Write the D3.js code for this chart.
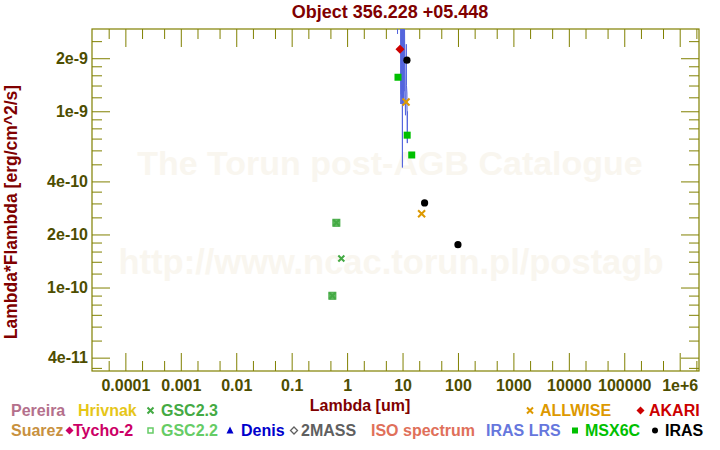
<!DOCTYPE html>
<html><head><meta charset="utf-8">
<script src="https://cdn.jsdelivr.net/npm/d3@7"></script>
<style>body{margin:0;background:#fff}svg{display:block}text{font-family:"Liberation Sans",Arial,sans-serif;font-weight:bold}</style>
</head><body>
<svg id="c" width="720" height="450"></svg>
<script>
// ---- data ----
const titleText = "Object 356.228 +05.448";
const xMajorTicks = [1e-4,1e-3,1e-2,1e-1,1,10,100,1000,1e4,1e5,1e6];
const xMajorLabels = ["0.0001","0.001","0.01","0.1","1","10","100","1000","10000","100000","1e+6"];
const xMinorTicks = [5e-5,2e-4,5e-4,2e-3,5e-3,2e-2,5e-2,0.2,0.5,2,5,20,50,200,500,2000,5000,2e4,5e4,2e5,5e5,2e6];
const yMajorTicks = [4e-11,1e-10,2e-10,4e-10,1e-9,2e-9];
const yMajorLabels = ["4e-11","1e-10","2e-10","4e-10","1e-9","2e-9"];
const yMinorTicks = [3.5e-11,5e-11,6e-11,7e-11,8e-11,9e-11,1.2e-10,1.4e-10,1.6e-10,1.8e-10,2.5e-10,3e-10,3.5e-10,5e-10,6e-10,7e-10,8e-10,9e-10,1.2e-9,1.4e-9,1.6e-9,1.8e-9,2.5e-9];

const irasLambda = [12, 25, 100];
const irasFlux   = [1.95e-9, 3.02e-10, 1.75e-10];
const msxLambda = [8.28, 12.13, 14.65];
const msxFlux   = [1.56e-9, 7.32e-10, 5.65e-10];
const allwiseLambda = [11.56, 22.09];
const allwiseFlux   = [1.13e-9, 2.62e-10];
const akariLambda = [9];
const akariFlux   = [2.25e-9];
const gsc22Lambda = [0.64, 0.542];
const gsc22Flux   = [2.33e-10, 8.98e-11];
const gsc23Lambda = [0.64, 0.787, 0.542];
const gsc23Flux   = [2.33e-10, 1.46e-10, 8.98e-11];
const lrsLambda = [7.9, 8.08, 8.12, 8.18, 9.3, 9.33, 9.38, 9.45, 9.52, 9.6, 9.68, 9.76, 9.84, 9.92, 9.96, 10.0, 10.08, 10.16, 10.24, 10.32, 10.4, 10.48, 10.56, 10.62, 10.68, 10.72, 11.1, 11.3, 11.5, 11.7, 11.78, 12.0, 12.2, 12.3];
const lrsFlux   = [5e-9, 4e-9, 2.75e-9, 5e-9, 5e-9, 1.1e-9, 5e-9, 1.25e-9, 5e-9, 1.2e-9, 5e-9, 1.1e-9, 5e-9, 1.1e-9, 4.8e-10, 5e-9, 1.1e-9, 5e-9, 1.2e-9, 5e-9, 1.15e-9, 5e-9, 1.1e-9, 5e-9, 1.3e-9, 5e-9, 1.3e-9, 9.5e-10, 1.2e-9, 2.4e-9, 1.4e-9, 1.27e-9, 6.6e-10, 1.0e-9];

const legendRow1 = [
  {label:"Pereira", color:"#b4708c", sym:null, x:11},
  {label:"Hrivnak", color:"#e6c619", sym:null, x:78},
  {label:"GSC2.3", color:"#44aa44", sym:"x", x:161, dx:-10.5},
  {label:"ALLWISE", color:"#dd9900", sym:"x", x:540, dx:-10},
  {label:"AKARI", color:"#cc0000", sym:"diamond", x:649, dx:-8.5}
];
const legendRow2 = [
  {label:"Suarez", color:"#c8913f", sym:null, x:11},
  {label:"Tycho-2", color:"#cc0066", sym:"diamond", x:73, dx:-3.5},
  {label:"GSC2.2", color:"#66cc66", sym:"hsquare", x:161, dx:-10.5},
  {label:"Denis", color:"#0000cc", sym:"triangle", x:241, dx:-11},
  {label:"2MASS", color:"#606060", sym:"hdiamond", x:301, dx:-7},
  {label:"ISO spectrum", color:"#e0705a", sym:null, x:371},
  {label:"IRAS LRS", color:"#6677dd", sym:null, x:486},
  {label:"MSX6C", color:"#00c000", sym:"square", x:585, dx:-10},
  {label:"IRAS", color:"#000000", sym:"circle", x:665, dx:-10}
];

// ---- chart ----
const svg = d3.select("#c");
const L=92, R=699, T=29, B=371;
const x = d3.scaleLog().domain([2.5e-5, 2.23e6]).range([L, R]);
const y = d3.scaleLog().domain([3.36e-11, 2.93e-9]).range([B, T]);
const axisCol = "#808000", labCol = "#4d4d00";

// watermark
svg.append("text").attr("x",390).attr("y",175).attr("text-anchor","middle")
  .attr("font-size",34).attr("fill","#f9f6ef").text("The Torun post-AGB Catalogue");
svg.append("text").attr("x",391).attr("y",274).attr("text-anchor","middle")
  .attr("font-size",34.5).attr("fill","#f9f6ef").text("http://www.ncac.torun.pl/postagb");

// axes
function styleAxis(g){ g.select(".domain").remove(); g.selectAll("line").attr("stroke",axisCol); g.selectAll("text").attr("fill",labCol).attr("font-size",16).attr("font-family","'Liberation Sans',Arial,sans-serif").attr("font-weight","bold"); }
svg.append("g").attr("transform",`translate(0,${B})`).call(d3.axisBottom(x).tickValues(xMajorTicks).tickFormat((d,i)=>xMajorLabels[i]).tickSize(-18).tickPadding(9)).call(styleAxis);
svg.append("g").attr("transform",`translate(0,${B})`).call(d3.axisBottom(x).tickValues(xMinorTicks).tickFormat("").tickSize(-10)).call(styleAxis);
svg.append("g").attr("transform",`translate(0,${T})`).call(d3.axisTop(x).tickValues(xMajorTicks).tickFormat("").tickSize(-18)).call(styleAxis);
svg.append("g").attr("transform",`translate(0,${T})`).call(d3.axisTop(x).tickValues(xMinorTicks).tickFormat("").tickSize(-10)).call(styleAxis);
svg.append("g").attr("transform",`translate(${L},0)`).call(d3.axisLeft(y).tickValues(yMajorTicks).tickFormat((d,i)=>yMajorLabels[i]).tickSize(-18).tickPadding(4)).call(styleAxis);
svg.append("g").attr("transform",`translate(${L},0)`).call(d3.axisLeft(y).tickValues(yMinorTicks).tickFormat("").tickSize(-10)).call(styleAxis);
svg.append("g").attr("transform",`translate(${R},0)`).call(d3.axisRight(y).tickValues(yMajorTicks).tickFormat("").tickSize(-18)).call(styleAxis);
svg.append("g").attr("transform",`translate(${R},0)`).call(d3.axisRight(y).tickValues(yMinorTicks).tickFormat("").tickSize(-10)).call(styleAxis);
svg.append("rect").attr("x",L).attr("y",T).attr("width",R-L).attr("height",B-T).attr("fill","none").attr("stroke",axisCol).attr("stroke-width",1.2);

// clip
svg.append("clipPath").attr("id","clip").append("rect").attr("x",L).attr("y",T).attr("width",R-L).attr("height",B-T);
const plot = svg.append("g").attr("clip-path","url(#clip)");

// IRAS LRS spectrum
const lrs = lrsLambda.map((l,i)=>[l,lrsFlux[i]]);
plot.append("path").attr("d", d3.line().x(d=>x(d[0])).y(d=>y(d[1]))(lrs))
  .attr("fill","none").attr("stroke","#5566dd").attr("stroke-width",1);

function zip(a,b){return a.map((v,i)=>[v,b[i]]);}
// GSC2.2 squares
plot.selectAll(".g22").data(zip(gsc22Lambda,gsc22Flux)).join("rect")
  .attr("x",d=>x(d[0])-3.5).attr("y",d=>y(d[1])-3.5).attr("width",7).attr("height",7)
  .attr("fill","#66bb66").attr("stroke","#44aa44").attr("stroke-width",1);
// GSC2.3 crosses
const cross = (s)=>`M${-s},${-s}L${s},${s}M${-s},${s}L${s},${-s}`;
plot.selectAll(".g23").data(zip(gsc23Lambda,gsc23Flux)).join("path")
  .attr("transform",d=>`translate(${x(d[0])},${y(d[1])})`).attr("d",cross(3))
  .attr("stroke","#44aa44").attr("stroke-width",2).attr("fill","none");
// MSX squares
plot.selectAll(".msx").data(zip(msxLambda,msxFlux)).join("rect")
  .attr("x",d=>x(d[0])-3.5).attr("y",d=>y(d[1])-3.5).attr("width",7).attr("height",7).attr("fill","#00c000");
// ALLWISE crosses
plot.selectAll(".aw").data(zip(allwiseLambda,allwiseFlux)).join("path")
  .attr("transform",d=>`translate(${x(d[0])},${y(d[1])})`).attr("d",cross(3.5))
  .attr("stroke","#dd9900").attr("stroke-width",2).attr("fill","none");
// AKARI diamond
plot.selectAll(".ak").data(zip(akariLambda,akariFlux)).join("path")
  .attr("transform",d=>`translate(${x(d[0])},${y(d[1])})`).attr("d","M0,-4.5L4.5,0L0,4.5L-4.5,0Z").attr("fill","#cc0000");
// IRAS circles
plot.selectAll(".ir").data(zip(irasLambda,irasFlux)).join("circle")
  .attr("cx",d=>x(d[0])).attr("cy",d=>y(d[1])).attr("r",3.6).attr("fill","#000");

// titles
svg.append("text").attr("x",390).attr("y",18).attr("text-anchor","middle").attr("font-size",18).attr("fill","#800000").text(titleText);
svg.append("text").attr("x",360).attr("y",411).attr("text-anchor","middle").attr("font-size",16).attr("fill","#800000").text("Lambda [um]");
svg.append("text").attr("transform","translate(16.5,212) rotate(-90)").attr("text-anchor","middle").attr("font-size",17.5).attr("fill","#800000").text("Lambda*Flambda [erg/cm^2/s]");

// legend
function sym(g, s, color, cx, cy){
  if(s==="x") g.append("path").attr("transform",`translate(${cx},${cy})`).attr("d",cross(3)).attr("stroke",color).attr("stroke-width",2);
  else if(s==="diamond") g.append("path").attr("transform",`translate(${cx},${cy})`).attr("d","M0,-4L4,0L0,4L-4,0Z").attr("fill",color);
  else if(s==="hdiamond") g.append("path").attr("transform",`translate(${cx},${cy})`).attr("d","M0,-3.5L3.5,0L0,3.5L-3.5,0Z").attr("fill","none").attr("stroke",color).attr("stroke-width",1.3);
  else if(s==="hsquare") g.append("rect").attr("x",cx-2.5).attr("y",cy-2.5).attr("width",5).attr("height",5).attr("fill","none").attr("stroke",color).attr("stroke-width",1.5);
  else if(s==="square") g.append("rect").attr("x",cx-3).attr("y",cy-3).attr("width",6).attr("height",6).attr("fill",color);
  else if(s==="triangle") g.append("path").attr("transform",`translate(${cx},${cy})`).attr("d","M0,-4L3.5,3L-3.5,3Z").attr("fill",color);
  else if(s==="circle") g.append("circle").attr("cx",cx).attr("cy",cy).attr("r",3).attr("fill",color);
}
const lg = svg.append("g");
[[legendRow1,416],[legendRow2,436]].forEach(([row,by])=>{
  row.forEach(it=>{
    lg.append("text").attr("x",it.x).attr("y",by).attr("font-size",16).attr("fill",it.color).text(it.label);
    if(it.sym) sym(lg, it.sym, it.color, it.x+it.dx, by-5.5);
  });
});
</script>
</body></html>
